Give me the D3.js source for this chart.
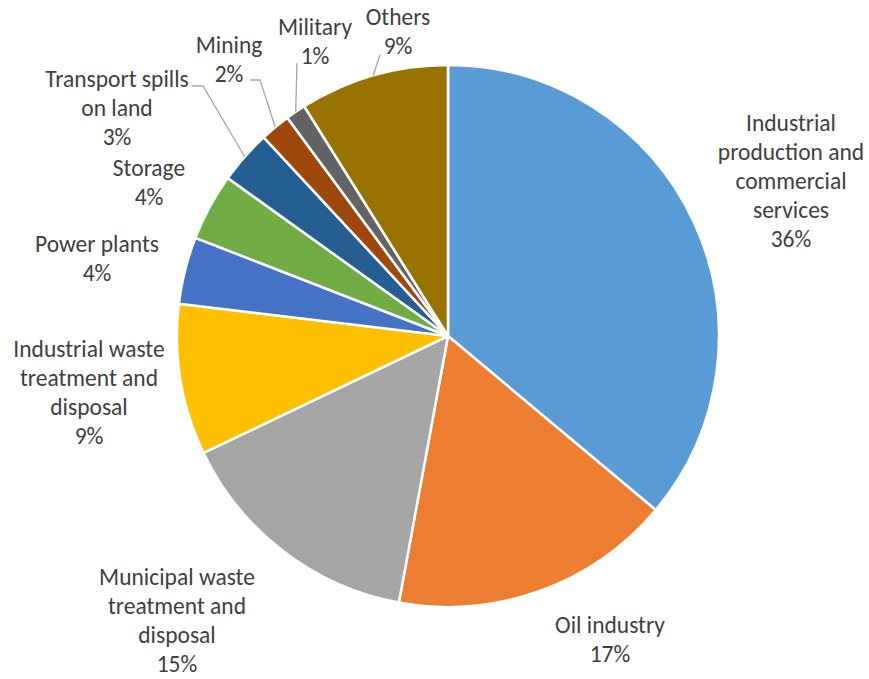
<!DOCTYPE html>
<html lang="en">
<head>
    <meta charset="UTF-8">
    <title>Pie Chart - Sources</title>
    <style>
        body { margin: 0; background: #fff; }
        text { font-family: Calibri, Carlito, Lato, sans-serif; font-size: 23.5px; fill: #404040; }
    </style>
</head>
<body>

    <div id="d3-container"></div>

    <script src="https://d3js.org/d3.v7.min.js"></script>
    <script>
        // data (share of total, %)
        const categories = [
            "Industrial production and commercial services",
            "Oil industry",
            "Municipal waste treatment and disposal",
            "Industrial waste treatment and disposal",
            "Power plants",
            "Storage",
            "Transport spills on land",
            "Mining",
            "Military",
            "Others"];
        const values = [36.1, 16.8, 15.0, 9.0, 4.0, 4.0, 3.2, 1.8, 1.2, 8.9];
        const colors = ["#5B9BD5", "#ED7D31", "#A5A5A5", "#FFC000", "#4472C4",
                        "#70AD47", "#255E91", "#9E480E", "#636363", "#997300"];

        // how each label is wrapped, and where it sits
        const labelLines = [
            ["Industrial", "production and", "commercial", "services"],
            ["Oil industry"],
            ["Municipal waste", "treatment and", "disposal"],
            ["Industrial waste", "treatment and", "disposal"],
            ["Power plants"],
            ["Storage"],
            ["Transport spills", "on land"],
            ["Mining"],
            ["Military"],
            ["Others"]];
        const labelPos = [
            [791, 123], [610, 625], [177, 577], [89, 349], [97, 244],
            [149, 168], [117, 79], [229, 45], [315, 27], [398, 17]];
        // leader lines: label-side points, the slice end is computed
        const leaders = {
            6: [[192, 86], [203, 86]],
            7: [[250, 80], [260, 80]],
            8: [[297, 63]],
            9: [[380, 55]]
        };

        const width = 869;
        const height = 679;
        const cx = 448, cy = 336, radius = 271;
        const lineH = 29;

        const data = categories.map((c, i) => ({ name: c, value: values[i], i: i }));
        const total = d3.sum(values);
        const fmt = d3.format(".0%");

        const svg = d3.select('#d3-container')
            .append('svg')
            .attr('width', width)
            .attr('height', height);

        const pie = d3.pie().sort(null).value(d => d.value);
        const arc = d3.arc().innerRadius(0).outerRadius(radius);
        const arcs = pie(data);

        const g = svg.append('g').attr('transform', `translate(${cx},${cy})`);

        g.selectAll('path')
            .data(arcs)
            .join('path')
            .attr('d', arc)
            .attr('fill', d => colors[d.data.i])
            .attr('stroke', '#fff')
            .attr('stroke-width', 2.5)
            .attr('stroke-linejoin', 'round');

        // leader lines
        arcs.forEach(a => {
            const pts = leaders[a.data.i];
            if (!pts) return;
            const mid = (a.startAngle + a.endAngle) / 2;
            const end = [cx + radius * Math.sin(mid), cy - radius * Math.cos(mid)];
            svg.append('polyline')
                .attr('points', pts.concat([end]).map(p => p.join(',')).join(' '))
                .attr('fill', 'none')
                .attr('stroke', '#A6A6A6')
                .attr('stroke-width', 1.3);
        });

        // labels
        const labels = svg.append('g')
            .selectAll('text')
            .data(data)
            .join('text')
            .attr('text-anchor', 'middle')
            .attr('dominant-baseline', 'central');

        labels.each(function (d) {
            const t = d3.select(this);
            const [x, y] = labelPos[d.i];
            const lines = labelLines[d.i].concat([fmt(d.value / total)]);
            lines.forEach((s, k) => {
                t.append('tspan')
                    .attr('x', x)
                    .attr('y', y + k * lineH)
                    .text(s);
            });
        });
    </script>

</body>
</html>
